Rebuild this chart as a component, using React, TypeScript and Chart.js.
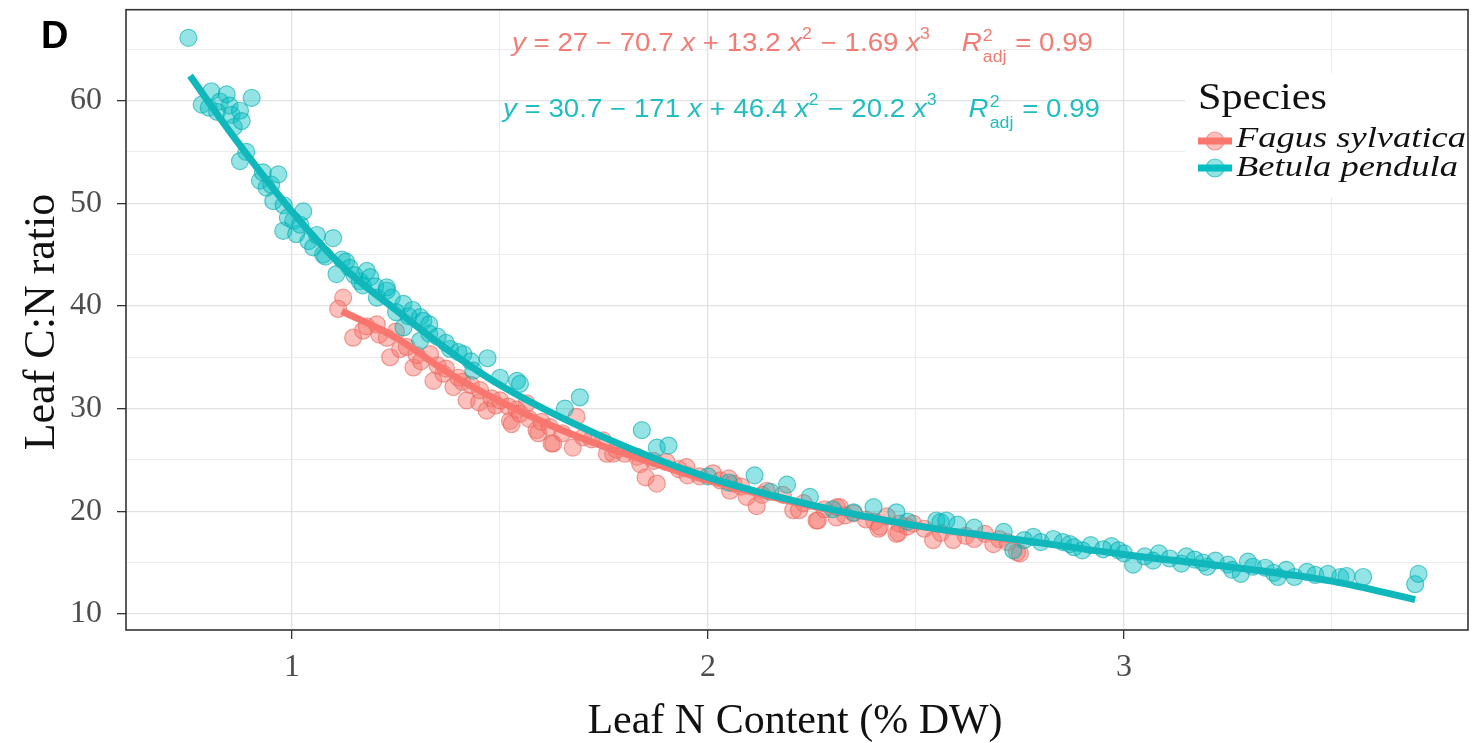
import { useEffect, useRef } from 'react';
import { Chart, registerables } from 'chart.js';

Chart.register(...registerables);

// ---------- data ----------
const speciesNames = ['Fagus sylvatica', 'Betula pendula'];

const fagusX = [1.123, 1.111, 1.147, 1.171, 1.18, 1.204, 1.21, 1.228, 1.236, 1.25, 1.26, 1.276, 1.292, 1.30, 1.31, 1.332, 1.340, 1.35, 1.364, 1.37, 1.388, 1.40, 1.41, 1.420, 1.43, 1.45, 1.452, 1.468, 1.48, 1.49, 1.500, 1.52, 1.524, 1.528, 1.54, 1.548, 1.564, 1.57, 1.588, 1.592, 1.60, 1.62, 1.624, 1.628, 1.65, 1.675, 1.684, 1.70, 1.72, 1.748, 1.757, 1.772, 1.78, 1.80, 1.83, 1.837, 1.85, 1.869, 1.877, 1.90, 1.93, 1.948, 1.951, 1.98, 2.012, 2.03, 2.05, 2.053, 2.061, 2.08, 2.093, 2.117, 2.13, 2.141, 2.18, 2.205, 2.219, 2.23, 2.261, 2.264, 2.28, 2.309, 2.31, 2.317, 2.33, 2.35, 2.38, 2.40, 2.41, 2.413, 2.43, 2.453, 2.458, 2.46, 2.479, 2.493, 2.52, 2.541, 2.56, 2.589, 2.62, 2.64, 2.666, 2.686, 2.70, 2.72, 2.743, 2.750];
const fagusY = [40.8, 39.7, 36.9, 37.6, 38.0, 38.2, 37.2, 36.9, 35.0, 37.5, 35.8, 36.0, 34.0, 35.2, 34.6, 35.3, 32.7, 34.2, 33.4, 33.9, 32.1, 33.0, 32.6, 30.8, 32.3, 30.6, 31.8, 29.8, 31.0, 30.3, 30.8, 30.2, 28.8, 28.5, 29.9, 29.5, 30.5, 29.0, 27.9, 27.6, 28.7, 28.2, 26.6, 26.6, 27.6, 26.2, 29.2, 27.2, 27.0, 26.9, 25.6, 25.6, 26.0, 25.6, 25.3, 24.6, 23.3, 24.9, 22.7, 24.8, 24.1, 24.3, 23.5, 23.4, 23.7, 23.0, 23.2, 22.0, 22.7, 22.4, 21.4, 20.5, 21.6, 22.0, 21.6, 20.1, 20.1, 20.8, 19.1, 19.1, 20.2, 19.4, 20.4, 20.4, 19.6, 19.8, 19.2, 19.0, 18.3, 18.5, 19.5, 17.8, 17.9, 18.8, 18.5, 18.8, 18.3, 17.2, 17.9, 17.2, 17.6, 17.3, 17.8, 16.8, 17.3, 17.0, 16.0, 15.9];

const betulaX = [0.751, 0.783, 0.80, 0.806, 0.82, 0.827, 0.843, 0.85, 0.855, 0.86, 0.875, 0.879, 0.903, 0.875, 0.89, 0.923, 0.93, 0.939, 0.95, 0.955, 0.967, 0.979, 0.98, 0.99, 1.003, 1.01, 1.02, 1.027, 1.04, 1.051, 1.06, 1.075, 1.08, 1.099, 1.107, 1.12, 1.13, 1.139, 1.15, 1.163, 1.17, 1.180, 1.188, 1.20, 1.204, 1.228, 1.228, 1.24, 1.25, 1.268, 1.268, 1.28, 1.29, 1.308, 1.316, 1.308, 1.33, 1.33, 1.35, 1.37, 1.38, 1.40, 1.412, 1.43, 1.436, 1.47, 1.50, 1.541, 1.548, 1.656, 1.692, 1.841, 1.877, 1.905, 2.0, 2.05, 2.112, 2.15, 2.19, 2.245, 2.30, 2.35, 2.398, 2.453, 2.48, 2.549, 2.559, 2.573, 2.60, 2.64, 2.711, 2.734, 2.76, 2.782, 2.80, 2.83, 2.853, 2.87, 2.880, 2.90, 2.92, 2.95, 2.97, 2.987, 3.00, 3.022, 3.05, 3.07, 3.084, 3.11, 3.138, 3.15, 3.17, 3.19, 3.200, 3.22, 3.25, 3.26, 3.281, 3.298, 3.31, 3.34, 3.36, 3.370, 3.39, 3.41, 3.44, 3.46, 3.490, 3.52, 3.535, 3.575, 3.700, 3.708];
const betulaY = [66.1, 59.6, 59.3, 60.9, 58.9, 59.9, 60.6, 59.5, 58.6, 57.4, 59.0, 58.0, 60.25, 54.1, 55.0, 52.2, 53.0, 51.5, 51.8, 50.2, 52.8, 47.3, 49.8, 48.6, 48.3, 47.0, 47.9, 49.2, 46.3, 45.7, 46.9, 45.0, 44.8, 46.6, 43.1, 44.5, 44.3, 43.7, 43.0, 42.4, 42.0, 43.4, 42.8, 41.9, 40.8, 41.8, 41.5, 40.8, 39.4, 40.2, 37.9, 39.0, 39.6, 38.9, 38.55, 36.6, 37.3, 38.2, 37.0, 36.4, 35.8, 35.5, 35.3, 34.6, 33.7, 34.9, 33.0, 32.7, 32.4, 30.0, 31.1, 27.9, 26.2, 26.4, 23.4, 22.8, 23.5, 21.9, 22.6, 21.4, 20.2, 19.9, 20.4, 19.9, 19.0, 19.1, 18.95, 19.1, 18.7, 18.4, 18.0, 16.2, 17.2, 17.5, 17.0, 17.3, 17.0, 16.8, 16.5, 16.2, 16.7, 16.3, 16.6, 16.2, 15.9, 14.8, 15.6, 15.2, 15.9, 15.4, 14.9, 15.6, 15.3, 15.0, 14.6, 15.2, 14.8, 14.3, 13.9, 15.1, 14.6, 14.5, 14.0, 13.6, 14.3, 13.6, 14.1, 13.8, 13.9, 13.6, 13.7, 13.6, 12.9, 13.9];

const fagusFitX = [1.12, 1.25, 1.375, 1.5, 1.625, 1.75, 1.875, 2.0, 2.25, 2.5, 2.75];
const fagusFitY = [39.5, 36.9, 33.5, 30.7, 28.3, 26.3, 24.6, 23.0, 20.5, 18.6, 17.1];

const betulaFitX = [0.755, 0.85, 1.0, 1.125, 1.25, 1.375, 1.5, 1.75, 2.0, 2.25, 2.5, 2.75, 3.0, 3.25, 3.5, 3.7];
const betulaFitY = [62.4, 57.0, 49.2, 43.7, 39.6, 35.7, 32.3, 27.2, 23.3, 20.6, 18.6, 17.2, 15.8, 14.6, 13.2, 11.4];

const xTicks = [1, 1.5, 2, 2.5, 3, 3.5];
const yTicks = [10, 15, 20, 25, 30, 35, 40, 45, 50, 55, 60, 65];

const eqFagus: [string, string][] = [['y', 'i'], [' = 27 − 70.7 ', 'n'], ['x', 'i'], [' + 13.2 ', 'n'], ['x', 'i'], ['2', 'sup'], [' − 1.69 ', 'n'], ['x', 'i'], ['3', 'sup'], ['    ', 'n'], ['R', 'i'], ['2|adj', 'ss'], [' = 0.99', 'n']];
const eqBetula: [string, string][] = [['y', 'i'], [' = 30.7 − 171 ', 'n'], ['x', 'i'], [' + 46.4 ', 'n'], ['x', 'i'], ['2', 'sup'], [' − 20.2 ', 'n'], ['x', 'i'], ['3', 'sup'], ['    ', 'n'], ['R', 'i'], ['2|adj', 'ss'], [' = 0.99', 'n']];

const SERIF = '"Liberation Serif", "Times New Roman", serif';
const SANS = '"Liberation Sans", Arial, sans-serif';

const RED = '#F8766D';
const TEAL = '#00BFC4';
const RED_FILL = 'rgba(248,118,109,0.45)';
const RED_EDGE = 'rgba(232,98,90,0.6)';
const TEAL_FILL = 'rgba(0,191,196,0.42)';
const TEAL_EDGE = 'rgba(0,168,172,0.6)';

function toPoints(xs: number[], ys: number[]) {
  return xs.map((x, i) => ({ x, y: ys[i] }));
}

function segFont(kind: string, fs: number) {
  if (kind === 'i') return `italic ${fs}px ${SANS}`;
  if (kind === 'sup' || kind === 'ss') return `${Math.round(fs * 0.62)}px ${SANS}`;
  return `${fs}px ${SANS}`;
}

function segW(ctx: CanvasRenderingContext2D, seg: [string, string], fs: number) {
  ctx.font = segFont(seg[1], fs);
  if (seg[1] === 'ss') {
    const [a, b] = seg[0].split('|');
    return Math.max(ctx.measureText(a).width, ctx.measureText(b).width) + 2;
  }
  return ctx.measureText(seg[0]).width + (seg[1] === 'sup' ? 1 : 0);
}

function drawEquation(ctx: CanvasRenderingContext2D, segs: [string, string][], x0: number, x1: number, baseline: number, fs: number, color: string) {
  const total = segs.reduce((s, g) => s + segW(ctx, g, fs), 0);
  const sx = (x1 - x0) / total;
  ctx.save();
  ctx.translate(x0, baseline);
  ctx.scale(sx, 1);
  ctx.fillStyle = color;
  ctx.textAlign = 'left';
  ctx.textBaseline = 'alphabetic';
  let x = 0;
  for (const seg of segs) {
    const w = segW(ctx, seg, fs);
    ctx.font = segFont(seg[1], fs);
    if (seg[1] === 'sup') {
      ctx.fillText(seg[0], x, -fs * 0.5);
    } else if (seg[1] === 'ss') {
      const [a, b] = seg[0].split('|');
      ctx.fillText(a, x + 1, -fs * 0.42);
      ctx.fillText(b, x + 1, fs * 0.42);
    } else {
      ctx.fillText(seg[0], x, 0);
    }
    x += w;
  }
  ctx.restore();
}

function fillTextFit(ctx: CanvasRenderingContext2D, text: string, x: number, baseline: number, font: string, width: number) {
  ctx.save();
  ctx.font = font;
  const w = ctx.measureText(text).width;
  ctx.translate(x, baseline);
  ctx.scale(width / w, 1);
  ctx.textAlign = 'left';
  ctx.textBaseline = 'alphabetic';
  ctx.fillText(text, 0, 0);
  ctx.restore();
}

const decorPlugin = {
  id: 'decor',
  afterDraw(chart: any) {
    const ctx: CanvasRenderingContext2D = chart.ctx;
    const a = chart.chartArea;
    ctx.save();
    // panel border
    ctx.strokeStyle = '#333333';
    ctx.lineWidth = 1.6;
    ctx.strokeRect(a.left, a.top, a.right - a.left, a.bottom - a.top);

    // equations
    drawEquation(ctx, eqFagus, 512, 1093, 51, 25, '#F07C74');
    drawEquation(ctx, eqBetula, 503, 1100, 117, 25, '#22BDC0');

    // legend
    ctx.fillStyle = '#ffffff';
    ctx.fillRect(1185, 73, a.right - 1185 - 1, 124);
    ctx.fillStyle = '#111111';
    fillTextFit(ctx, 'Species', 1198, 109, `37px ${SERIF}`, 129);
    const rows = [
      { name: speciesNames[0], line: RED, fill: RED_FILL, edge: RED_EDGE, y: 141, base: 147, w: 230 },
      { name: speciesNames[1], line: TEAL, fill: TEAL_FILL, edge: TEAL_EDGE, y: 168, base: 176, w: 222 },
    ];
    for (const r of rows) {
      ctx.beginPath();
      ctx.arc(1215, r.y, 9, 0, Math.PI * 2);
      ctx.fillStyle = r.fill;
      ctx.fill();
      ctx.strokeStyle = r.edge;
      ctx.lineWidth = 1.2;
      ctx.stroke();
      ctx.beginPath();
      ctx.moveTo(1198, r.y);
      ctx.lineTo(1232, r.y);
      ctx.strokeStyle = r.line;
      ctx.lineWidth = 7;
      ctx.stroke();
      ctx.fillStyle = '#111111';
      fillTextFit(ctx, r.name, 1236, r.base, `italic 29px ${SERIF}`, r.w);
    }

    // axis titles
    ctx.fillStyle = '#111111';
    ctx.font = `42px ${SERIF}`;
    ctx.textAlign = 'center';
    ctx.textBaseline = 'alphabetic';
    ctx.fillText('Leaf N Content (% DW)', 795, 733);
    ctx.save();
    ctx.translate(54, 322);
    ctx.rotate(-Math.PI / 2);
    ctx.font = `44px ${SERIF}`;
    ctx.fillText('Leaf C:N ratio', 0, 0);
    ctx.restore();

    // panel tag
    ctx.font = `bold 38px ${SANS}`;
    ctx.textAlign = 'left';
    ctx.fillStyle = '#000000';
    ctx.fillText('D', 41, 48);
    ctx.restore();
  },
};

export default function App() {
  const ref = useRef<HTMLCanvasElement | null>(null);
  useEffect(() => {
    if (!ref.current) return;
    const isMajor = (c: any) => c.tick && (c.scale.axis === 'x' ? c.tick.value % 1 === 0 : c.tick.value % 10 === 0);
    const chart = new Chart(ref.current, {
      type: 'scatter',
      data: {
        datasets: [
          {
            label: speciesNames[0],
            data: toPoints(fagusX, fagusY),
            pointRadius: 8.5,
            pointBackgroundColor: RED_FILL,
            pointBorderColor: RED_EDGE,
            pointBorderWidth: 1.2,
            order: 4,
          },
          {
            label: speciesNames[1],
            data: toPoints(betulaX, betulaY),
            pointRadius: 8.5,
            pointBackgroundColor: TEAL_FILL,
            pointBorderColor: TEAL_EDGE,
            pointBorderWidth: 1.2,
            order: 3,
          },
          {
            label: speciesNames[0] + ' fit',
            data: toPoints(fagusFitX, fagusFitY),
            showLine: true,
            pointRadius: 0,
            borderColor: RED,
            borderWidth: 7,
            cubicInterpolationMode: 'monotone',
            order: 2,
          },
          {
            label: speciesNames[1] + ' fit',
            data: toPoints(betulaFitX, betulaFitY),
            showLine: true,
            pointRadius: 0,
            borderColor: '#10B8BC',
            borderWidth: 7,
            cubicInterpolationMode: 'monotone',
            order: 1,
          },
        ],
      } as any,
      options: {
        responsive: false,
        animation: false,
        layout: { padding: { left: 0, right: 13, top: 8, bottom: 0 } },
        plugins: { legend: { display: false }, tooltip: { enabled: false } },
        scales: {
          x: {
            type: 'linear',
            min: 0.601,
            max: 3.827,
            afterBuildTicks: (s: any) => { s.ticks = xTicks.map((v) => ({ value: v })); },
            afterFit: (s: any) => { s.height = 113; s.paddingLeft = 0; s.paddingRight = 0; },
            ticks: {
              autoSkip: false,
              maxRotation: 0,
              padding: 9,
              color: '#4d4d4d',
              font: { family: SERIF, size: 32 },
              callback: (v: any) => (Number(v) % 1 === 0 ? String(v) : ''),
            },
            grid: {
              color: (c: any) => (isMajor(c) ? '#e2e2e2' : '#ebebeb'),
              lineWidth: (c: any) => (isMajor(c) ? 1.3 : 1),
              tickLength: 9,
              tickColor: (c: any) => (isMajor(c) ? '#333333' : 'rgba(0,0,0,0)'),
            },
            border: { display: false },
          },
          y: {
            type: 'linear',
            min: 8.44,
            max: 68.84,
            afterBuildTicks: (s: any) => { s.ticks = yTicks.map((v) => ({ value: v })); },
            afterFit: (s: any) => { s.width = 126; s.paddingTop = 0; s.paddingBottom = 0; },
            ticks: {
              autoSkip: false,
              padding: 15,
              color: '#4d4d4d',
              font: { family: SERIF, size: 32 },
              callback: (v: any) => (Number(v) % 10 === 0 ? String(v) : ''),
            },
            grid: {
              color: (c: any) => (isMajor(c) ? '#e2e2e2' : '#ebebeb'),
              lineWidth: (c: any) => (isMajor(c) ? 1.3 : 1),
              tickLength: 9,
              tickColor: (c: any) => (isMajor(c) ? '#333333' : 'rgba(0,0,0,0)'),
            },
            border: { display: false },
          },
        },
      } as any,
      plugins: [decorPlugin],
    });
    return () => chart.destroy();
  }, []);

  return (
    <div style={{ position: 'fixed', left: 0, top: 0, width: 1481, height: 743, background: '#ffffff' }}>
      <canvas ref={ref} width={1481} height={743} style={{ display: 'block' }} />
    </div>
  );
}
